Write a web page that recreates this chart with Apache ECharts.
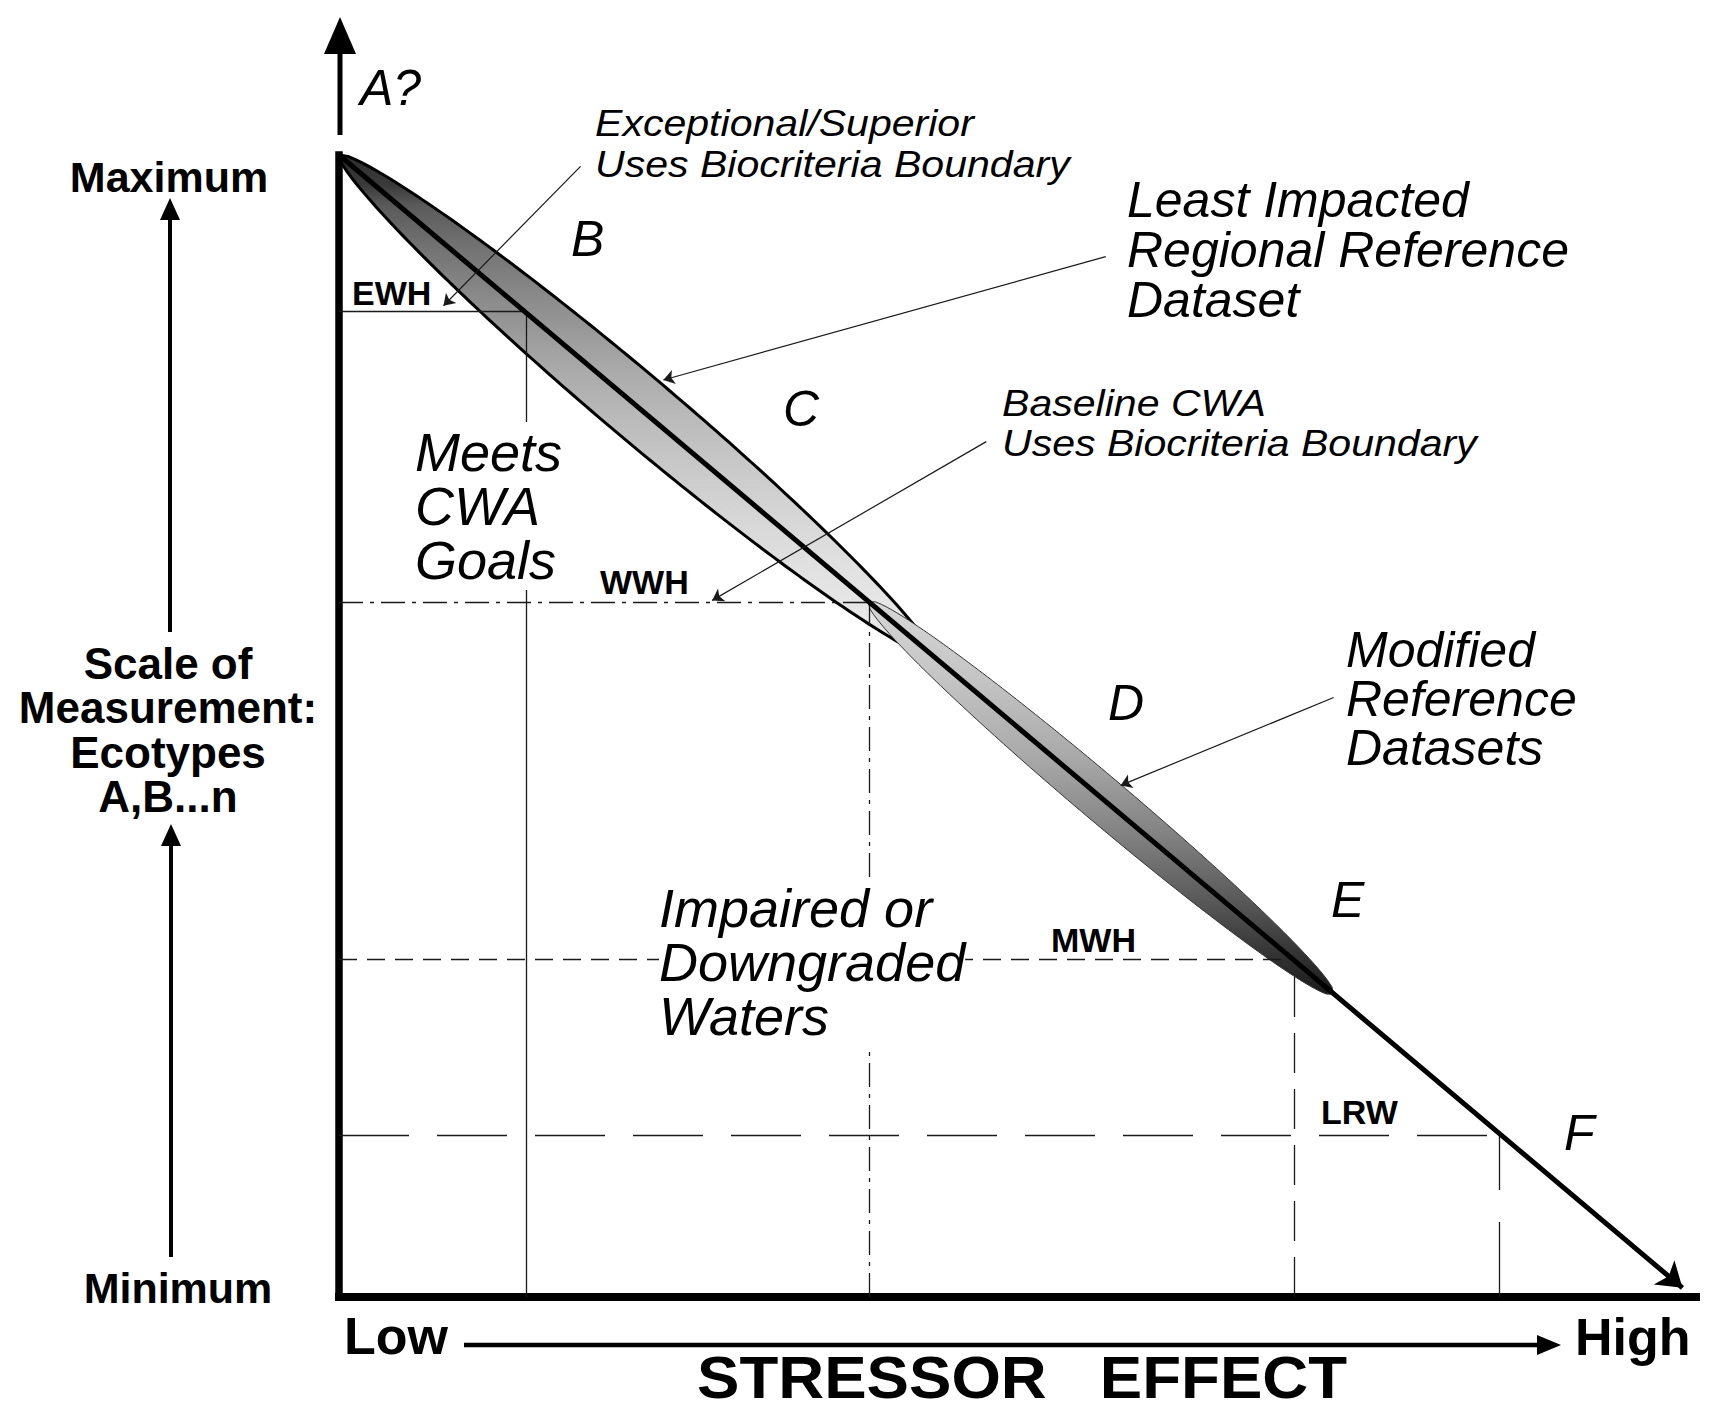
<!DOCTYPE html>
<html>
<head>
<meta charset="utf-8">
<script src="https://cdn.jsdelivr.net/npm/echarts@6/dist/echarts.min.js"></script>
<style>
  html, body { margin: 0; padding: 0; background: #fff; }
  #chart { width: 1712px; height: 1413px; }
</style>
</head>
<body>
<div id="chart"></div>
<script>
// x: stressor effect (0 = low .. 100 = high), y: scale of measurement (0 = min .. 100 = max)
const responseLine = [[0, 100], [99.0, 0.8]];

// shaded reference envelopes laid along the response line
const envelopeNames = ['Least Impacted Regional Reference Dataset', 'Modified Reference Datasets'];
const envelopeStart = [[0, 100], [39.0, 60.9]];
const envelopeEnd = [[43.8, 56.1], [73.3, 26.5]];

// aquatic life uses where the boundaries cut the response line
const useNames = ['EWH', 'WWH', 'MWH', 'LRW'];
const useStressor = [13.8, 39.1, 70.4, 85.5];
const useScore = [86.3, 60.8, 29.6, 14.2];

const zoneLetters = ['A?', 'B', 'C', 'D', 'E', 'F'];

const chart = echarts.init(document.getElementById('chart'), null, { renderer: 'svg' });

// look of each envelope (index matches envelopeNames); shading runs top to bottom
const envelopeLook = [
  {
    width: 33, bulge: 0.6, stroke: '#000', lineWidth: 3,
    stops: [
      { offset: 0, color: '#2e2e2e' },
      { offset: 0.06, color: '#3a3a3a' },
      { offset: 0.1, color: '#5a5a5a' },
      { offset: 0.19, color: '#747474' },
      { offset: 0.31, color: '#909090' },
      { offset: 0.43, color: '#aaaaaa' },
      { offset: 0.55, color: '#bebebe' },
      { offset: 0.69, color: '#d2d2d2' },
      { offset: 0.81, color: '#e0e0e0' },
      { offset: 0.93, color: '#e8e8e8' },
      { offset: 1, color: '#dcdcdc' }
    ]
  },
  {
    width: 23, bulge: 0.5, stroke: '#333', lineWidth: 1,
    stops: [
      { offset: 0, color: '#d6d6d6' },
      { offset: 0.2, color: '#c4c4c4' },
      { offset: 0.4, color: '#a8a8a8' },
      { offset: 0.6, color: '#808080' },
      { offset: 0.75, color: '#5c5c5c' },
      { offset: 0.9, color: '#333333' },
      { offset: 1, color: '#1a1a1a' }
    ]
  }
];

function renderEnvelope(params, api) {
  const a = api.coord([api.value(0), api.value(1)]);
  const b = api.coord([api.value(2), api.value(3)]);
  const look = envelopeLook[params.dataIndex];
  const dx = b[0] - a[0], dy = b[1] - a[1];
  const len = Math.hypot(dx, dy);
  const nx = -dy / len, ny = dx / len;
  const side1 = [], side2 = [];
  for (let i = 0; i <= 100; i++) {
    const t = i / 100;
    const w = look.width * Math.pow(4 * t * (1 - t), look.bulge);
    const cx = a[0] + dx * t, cy = a[1] + dy * t;
    side1.push([cx + nx * w, cy + ny * w]);
    side2.push([cx - nx * w, cy - ny * w]);
  }
  return {
    type: 'polygon',
    shape: { points: side1.concat(side2.reverse()) },
    style: {
      fill: new echarts.graphic.LinearGradient(a[0], a[1], a[0], b[1], look.stops, true),
      stroke: look.stroke,
      lineWidth: look.lineWidth,
      lineJoin: 'round'
    }
  };
}

// boundary guides: horizontal from the y axis, vertical from the x axis
const guideDash = [
  { h: 'solid', v: 'solid' },
  { h: [24, 7, 4, 7], v: [24, 7, 4, 7] },
  { h: [18, 10], v: [40, 16] },
  { h: [70, 28], v: [75, 32] }
];
const guideData = [];
useNames.forEach((name, i) => {
  const x = useStressor[i], y = useScore[i];
  guideData.push({ name, coords: [[0, y], [x, y]], lineStyle: { type: guideDash[i].h } });
  guideData.push({ name, coords: [[x, 0], [x, y]], lineStyle: { type: guideDash[i].v } });
});

// leader arrows from the notes to what they describe
const leaderData = [
  { coords: [[17.8, 99.0], [7.7, 86.8]] },
  { coords: [[56.5, 91.1], [23.9, 80.3]] },
  { coords: [[47.7, 74.9], [27.5, 61.0]] },
  { coords: [[73.3, 52.5], [57.6, 44.8]] }
];

const FONT = '"Liberation Sans", Arial, sans-serif';
function label(text, x, y, size, opts = {}) {
  const align = opts.align || 'left';
  return {
    type: 'text', x, y, z: 10, silent: true, scaleX: opts.scaleX || 1,
    style: {
      text,
      font: `${opts.upright ? 'normal' : 'italic'} ${opts.bold ? 'bold' : 'normal'} ${size}px ${FONT}`,
      fill: '#000',
      align, textAlign: align,
      verticalAlign: 'middle', textVerticalAlign: 'middle',
      lineHeight: opts.lineHeight,
      backgroundColor: opts.bg,
      padding: opts.bg ? [3, 0] : 0
    }
  };
}

function arrow(x1, y1, x2, y2, width, headLen, headHalf) {
  const ang = Math.atan2(y2 - y1, x2 - x1);
  const c = Math.cos(ang), s = Math.sin(ang);
  const bx = x2 - c * headLen, by = y2 - s * headLen;
  return [
    { type: 'line', z: 10, silent: true,
      shape: { x1, y1, x2: bx + c * 2, y2: by + s * 2 },
      style: { stroke: '#000', lineWidth: width } },
    { type: 'polygon', z: 10, silent: true,
      shape: { points: [[x2, y2], [bx - s * headHalf, by + c * headHalf], [bx + s * headHalf, by - c * headHalf]] },
      style: { fill: '#000' } }
  ];
}

const bold = { bold: true, upright: true };
const graphics = [].concat(
  arrow(340, 135, 340, 17, 5, 37, 16),
  arrow(170, 632, 170, 198, 4, 22, 10),
  arrow(171, 1257, 171, 824, 4, 22, 10),
  arrow(464, 1345, 1561, 1345, 4.5, 24, 10),
  [
    label(zoneLetters[0], 360, 88, 50),
    label(zoneLetters[1], 571, 239, 50),
    label(zoneLetters[2], 783, 409, 50),
    label(zoneLetters[3], 1108, 703, 50),
    label(zoneLetters[4], 1331, 900, 50),
    label(zoneLetters[5], 1564, 1133, 50),

    label('Exceptional/Superior\nUses Biocriteria Boundary', 595, 143.5, 37, { scaleX: 1.11, lineHeight: 41 }),
    label('Least Impacted\nRegional Reference\nDataset', 1127, 250, 50, { lineHeight: 50 }),
    label('Baseline CWA\nUses Biocriteria Boundary', 1002, 423, 37, { scaleX: 1.11, lineHeight: 40 }),
    label('Meets\nCWA\nGoals', 415, 506, 54, { lineHeight: 54, bg: '#fff' }),
    label('Modified\nReference\nDatasets', 1346, 699, 50, { lineHeight: 49 }),
    label('Impaired or\nDowngraded\nWaters', 659, 962, 54, { lineHeight: 54, bg: '#fff' }),

    label(useNames[0], 352, 293, 34, bold),
    label(useNames[1], 600, 582, 34, bold),
    label(useNames[2], 1051, 940, 34, bold),
    label(useNames[3], 1321, 1112, 34, bold),

    label('Maximum', 169, 177, 43, { ...bold, align: 'center' }),
    label('Scale of\nMeasurement:\nEcotypes\nA,B...n', 168, 730, 44, { ...bold, align: 'center', lineHeight: 44.5 }),
    label('Minimum', 178, 1288, 43, { ...bold, align: 'center' }),

    label('Low', 344, 1336, 52, bold),
    label('High', 1575, 1337, 52, bold),
    label('STRESSOR   EFFECT', 697, 1377, 60, { ...bold, scaleX: 1.06 })
  ]
);

const hiddenBits = {
  axisTick: { show: false },
  axisLabel: { show: false },
  splitLine: { show: false }
};

chart.setOption({
  animation: false,
  backgroundColor: '#fff',
  color: ['#000'],
  grid: { left: 339, right: 16, top: 155, bottom: 116 },
  xAxis: {
    type: 'value', min: 0, max: 100,
    axisLine: { show: true, onZero: false, lineStyle: { color: '#000', width: 8, cap: 'square' } },
    ...hiddenBits
  },
  yAxis: {
    type: 'value', min: 0, max: 100,
    axisLine: { show: true, onZero: false, lineStyle: { color: '#000', width: 7.5, cap: 'square' } },
    ...hiddenBits
  },
  series: [
    {
      name: 'Envelopes',
      type: 'custom',
      coordinateSystem: 'cartesian2d',
      z: 2,
      silent: true,
      renderItem: renderEnvelope,
      data: envelopeStart.map((s, i) => ({
        name: envelopeNames[i],
        value: [s[0], s[1], envelopeEnd[i][0], envelopeEnd[i][1]]
      }))
    },
    {
      name: 'Use boundaries',
      type: 'lines',
      coordinateSystem: 'cartesian2d',
      z: 3,
      silent: true,
      symbol: 'none',
      lineStyle: { color: '#1a1a1a', width: 1.3, opacity: 1 },
      data: guideData
    },
    {
      name: 'Response',
      type: 'lines',
      coordinateSystem: 'cartesian2d',
      z: 5,
      silent: true,
      symbol: ['none', 'arrow'],
      symbolSize: 24,
      lineStyle: { color: '#000', width: 5, opacity: 1 },
      data: [{ coords: responseLine }]
    },
    {
      name: 'Leaders',
      type: 'lines',
      coordinateSystem: 'cartesian2d',
      z: 5,
      silent: true,
      symbol: ['none', 'arrow'],
      symbolSize: 11,
      lineStyle: { color: '#1a1a1a', width: 1.2, opacity: 1 },
      data: leaderData
    }
  ],
  graphic: { elements: graphics }
});
</script>
</body>
</html>
